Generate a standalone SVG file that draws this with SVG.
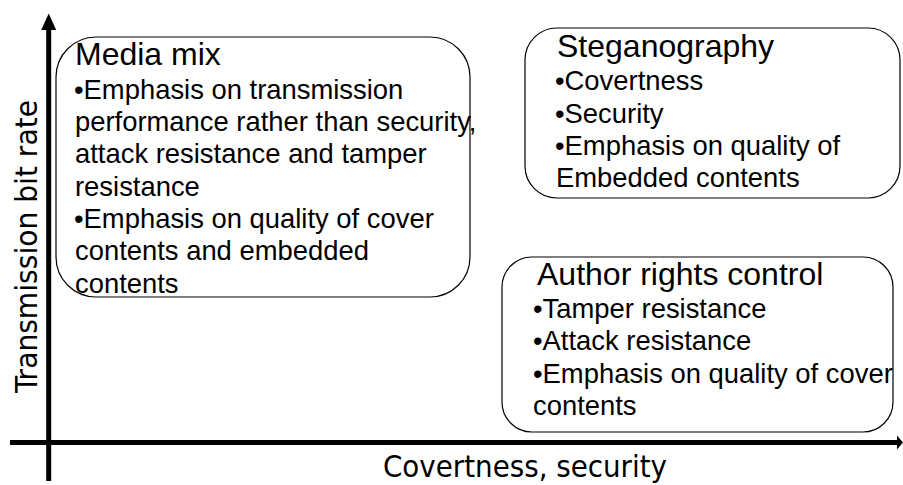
<svg xmlns="http://www.w3.org/2000/svg" width="903" height="485" viewBox="0 0 903 485">
  <style>
    .box { fill: none; stroke: #000; stroke-width: 1.2; }
    .title { font-family: "Liberation Sans", Arial, sans-serif; font-size: 32px; fill: #000; }
    .item { font-family: "Liberation Sans", Arial, sans-serif; font-size: 27.4px; fill: #000; }
    .axis-label { font-family: "DejaVu Sans Condensed", "DejaVu Sans", sans-serif; font-stretch: condensed; font-size: 31px; fill: #000; }
    .axis { stroke: #000; stroke-width: 5; }
  </style>
  <rect width="903" height="485" fill="#fff"/>

  <!-- axes -->
  <g id="axes">
    <line class="axis" x1="48.7" y1="28" x2="48.7" y2="481"/>
    <polygon points="41.2,30 56.2,30 48.7,13.5" fill="#000"/>
    <line class="axis" x1="10" y1="442.5" x2="898" y2="442.5"/>
    <polygon points="897,435.5 897,449.5 903,442.5" fill="#000"/>
    <text class="axis-label" transform="translate(37,246.5) rotate(-90)" text-anchor="middle" textLength="293" lengthAdjust="spacingAndGlyphs">Transmission bit rate</text>
    <text class="axis-label" x="525" y="477" text-anchor="middle" textLength="284" lengthAdjust="spacingAndGlyphs">Covertness, security</text>
  </g>

  <!-- Media mix -->
  <g id="media-mix">
    <rect class="box" x="56" y="37" width="414" height="260" rx="40" ry="40"/>
    <text class="title" x="75" y="65">Media mix</text>
    <text class="item" x="74" y="98.5">•Emphasis on transmission</text>
    <text class="item" x="75" y="131">performance rather than security,</text>
    <text class="item" x="75" y="163">attack resistance and tamper</text>
    <text class="item" x="75" y="195.5">resistance</text>
    <text class="item" x="74" y="228">•Emphasis on quality of cover</text>
    <text class="item" x="75" y="260">contents and embedded</text>
    <text class="item" x="75" y="292.5">contents</text>
  </g>

  <!-- Steganography -->
  <g id="steganography">
    <rect class="box" x="525" y="28" width="375" height="170" rx="32" ry="32"/>
    <text class="title" x="557" y="57">Steganography</text>
    <text class="item" x="555" y="90">•Covertness</text>
    <text class="item" x="555" y="122.5">•Security</text>
    <text class="item" x="555" y="155">•Emphasis on quality of</text>
    <text class="item" x="556" y="187">Embedded contents</text>
  </g>

  <!-- Author rights control -->
  <g id="author-rights-control">
    <rect class="box" x="502" y="257" width="391" height="175" rx="30" ry="30"/>
    <text class="title" x="537" y="285">Author rights control</text>
    <text class="item" x="533" y="318">•Tamper resistance</text>
    <text class="item" x="533" y="350">•Attack resistance</text>
    <text class="item" x="533" y="382.5">•Emphasis on quality of cover</text>
    <text class="item" x="533" y="415">contents</text>
  </g>
</svg>
